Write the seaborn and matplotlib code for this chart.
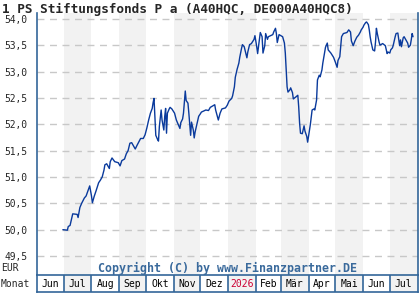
import matplotlib
matplotlib.use('Agg')
import numpy as np
import pandas as pd
import matplotlib.pyplot as plt
import matplotlib.ticker as mticker
import seaborn as sns

# days since 2025-06-01 and fund price in EUR
days = [29, 34, 35, 37, 40, 45, 46, 48, 50, 53, 55, 59, 61, 62, 64, 66, 69, 71, 73, 75,
        76, 78, 81, 82, 84, 87, 91, 93, 95, 98, 100, 102, 104, 106, 110, 112, 116, 119, 121, 123,
        125, 127, 129, 130, 131, 132, 133, 135, 136, 137, 139, 140, 142, 143, 144, 145, 146, 148, 149, 151,
        154, 156, 160, 161, 163, 164, 166, 167, 169, 170, 172, 173, 175, 176, 177, 179, 181, 183, 184, 189,
        192, 194, 199, 200, 203, 205, 207, 211, 213, 215, 218, 219, 221, 222, 224, 226, 227, 229, 230, 232,
        235, 236, 238, 240, 243, 244, 246, 247, 250, 252, 253, 255, 256, 258, 259, 264, 265, 267, 268, 269,
        271, 272, 275, 277, 278, 279, 280, 281, 283, 284, 286, 287, 290, 292, 293, 294, 295, 297, 299, 300,
        302, 303, 304, 306, 308, 310, 311, 313, 314, 316, 317, 319, 320, 322, 323, 325, 326, 328, 329, 332,
        334, 336, 337, 339, 341, 343, 347, 349, 351, 352, 354, 356, 358, 360, 362, 363, 365, 366, 368, 369,
        371, 372, 373, 374, 376, 378, 379, 380, 381, 383, 384, 387, 390, 392, 393, 395, 396, 398, 399, 401,
        402, 404, 406, 407, 408, 410, 411, 415, 416, 418, 419, 420, 421]
prices = [50.00, 49.99, 50.06, 50.08, 50.30, 50.29, 50.23, 50.42, 50.50, 50.60,
          50.64, 50.83, 50.64, 50.51, 50.63, 50.73, 50.89, 50.94, 51.00, 51.13,
          51.23, 51.25, 51.16, 51.29, 51.36, 51.29, 51.27, 51.21, 51.31, 51.34,
          51.44, 51.50, 51.64, 51.65, 51.53, 51.60, 51.73, 51.73, 51.80, 51.93,
          52.08, 52.21, 52.30, 52.41, 52.49, 52.15, 51.79, 51.71, 51.68, 51.96,
          52.27, 52.08, 51.89, 52.15, 52.30, 51.83, 52.21, 52.29, 52.32, 52.29,
          52.21, 52.08, 51.92, 52.03, 52.10, 52.21, 52.63, 52.45, 52.40, 52.21,
          51.79, 52.04, 51.89, 51.74, 51.85, 52.00, 52.15, 52.20, 52.23, 52.27,
          52.26, 52.32, 52.37, 52.27, 52.08, 52.21, 52.29, 52.31, 52.36, 52.44,
          52.49, 52.54, 52.71, 52.89, 53.04, 53.16, 53.27, 53.44, 53.51, 53.47,
          53.26, 53.37, 53.51, 53.53, 53.61, 53.68, 53.47, 53.34, 53.74, 53.66,
          53.35, 53.49, 53.72, 53.61, 53.66, 53.70, 53.75, 53.82, 53.72, 53.55,
          53.70, 53.69, 53.66, 53.54, 53.35, 53.03, 52.71, 52.61, 52.65, 52.69,
          52.60, 52.48, 52.52, 52.55, 52.33, 52.02, 51.83, 51.82, 51.97, 51.87,
          51.77, 51.66, 51.77, 51.99, 52.27, 52.29, 52.27, 52.46, 52.84, 52.93,
          52.90, 53.03, 53.16, 53.36, 53.46, 53.54, 53.41, 53.37, 53.35, 53.27,
          53.18, 53.08, 53.21, 53.28, 53.66, 53.72, 53.74, 53.79, 53.75, 53.58,
          53.49, 53.58, 53.65, 53.69, 53.75, 53.79, 53.84, 53.88, 53.93, 53.94,
          53.89, 53.79, 53.66, 53.56, 53.41, 53.39, 53.56, 53.82, 53.72, 53.56,
          53.50, 53.53, 53.49, 53.34, 53.37, 53.35, 53.41, 53.45, 53.51, 53.66,
          53.72, 53.73, 53.49, 53.60, 53.47, 53.64, 53.66, 53.54, 53.46, 53.50,
          53.60, 53.72, 53.66]
month_labels = ['Jun', 'Jul', 'Aug', 'Sep', 'Okt', 'Nov', 'Dez', '2026',
                'Feb', 'Mär', 'Apr', 'Mai', 'Jun', 'Jul']
y_ticks = [49.5, 50.0, 50.5, 51.0, 51.5, 52.0, 52.5, 53.0, 53.5, 54.0]

dates = pd.Timestamp('2025-06-01') + pd.to_timedelta(days, unit='D')
df = pd.DataFrame({'date': dates, 'price': prices})
month_starts = pd.date_range('2025-06-01', periods=len(month_labels) + 1, freq='MS')

sns.set_style('white')
plt.rcParams['font.family'] = ['DejaVu Sans Mono']

frame = '#336699'
band = '#f2f2f2'

fig = plt.figure(figsize=(4.2, 3.0), dpi=100)
ax = fig.add_axes([37 / 420, 25 / 300, 380.5 / 420, 262 / 300])
axm = fig.add_axes([37 / 420, 8 / 300, 380.5 / 420, 17 / 300])

# alternating month bands
for i in range(1, len(month_labels), 2):
    ax.axvspan(month_starts[i], month_starts[i + 1], color=band, lw=0, zorder=0.1)
    axm.axvspan(month_starts[i], month_starts[i + 1], color=band, lw=0, zorder=0.1)

sns.lineplot(data=df, x='date', y='price', ax=ax, color='#0a3a9c', lw=1.0, zorder=3)

ax.set_xlim(month_starts[0], month_starts[-1])
ax.set_ylim(49.14, 54.11)
ax.set_yticks(y_ticks)
ax.yaxis.set_major_formatter(mticker.FuncFormatter(lambda v, p: f'{v:.1f}'.replace('.', ',')))
ax.set_xticks([])
ax.set_xlabel('')
ax.set_ylabel('')
ax.tick_params(axis='y', length=0, pad=7, labelsize=6.9)
ax.set_axisbelow(True)
ax.yaxis.grid(True, color='#c8c8c8', lw=1, ls=(0, (5, 4)))
ax.spines['top'].set_visible(False)
ax.spines['bottom'].set_visible(False)
for s in ['left', 'right']:
    ax.spines[s].set_color(frame)
    ax.spines[s].set_linewidth(1.2)

# month label row
axm.set_xlim(month_starts[0], month_starts[-1])
axm.set_ylim(0, 1)
axm.set_xticks([])
axm.set_yticks([])
for s in axm.spines.values():
    s.set_color(frame)
    s.set_linewidth(1.2)
for i, lab in enumerate(month_labels):
    mid = month_starts[i] + (month_starts[i + 1] - month_starts[i]) / 2
    axm.text(mid, 0.45, lab, ha='center', va='center', fontsize=7,
             color='#cc0033' if lab == '2026' else 'black')
    if i > 0:
        axm.axvline(month_starts[i], color=frame, lw=1.2)

fig.text(0.004, 1 - 9 / 300, '1 PS Stiftungsfonds P a (A40HQC, DE000A40HQC8)',
         ha='left', va='center', fontsize=9.2, weight='bold')
fig.text(227 / 420, 1 - 268 / 300, 'Copyright (C) by www.Finanzpartner.DE',
         ha='center', va='center', fontsize=8.4, weight='bold', color='#3a6a9c')
fig.text(0.002, 1 - 268 / 300, 'EUR', ha='left', va='center', fontsize=7)
fig.text(0.002, 1 - 284 / 300, 'Monat', ha='left', va='center', fontsize=7)

fig.savefig('out.png', dpi=100)
